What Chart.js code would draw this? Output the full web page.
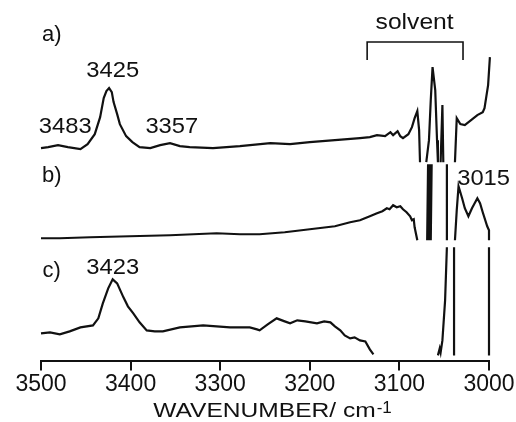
<!DOCTYPE html>
<html>
<head>
<meta charset="utf-8">
<script src="https://cdn.jsdelivr.net/npm/chart.js@4"></script>
<style>
  html, body { margin: 0; padding: 0; background: #fff; }
</style>
</head>
<body>
<canvas id="ir" width="516" height="422"></canvas>
<script>
// Espectros IR (region O-H / C-H), tres trazas desplazadas verticalmente
// x = numero de onda (cm-1), y = absorbancia en unidades arbitrarias con offset
// null = tramo fuera de escala (la traza se corta)

const waveA = [3500, 3492, 3481, 3470, 3456, 3448, 3440, 3434, 3430, 3427, 3424, 3421, 3419, 3415, 3412, 3405, 3398, 3390,
  3378, 3367, 3356, 3345, 3334, 3308, 3278, 3244, 3222, 3200, 3172, 3144, 3133, 3125, 3116, 3110, 3107, 3102, 3099, 3096, 3090, 3086,
  3083, 3080, 3078, 3077, 3074, 3070, 3067, 3065, 3063, 3060, 3058, 3057, 3055, 3054, 3052, 3051, 3045, 3038, 3036, 3032,
  3027, 3020, 3013, 3007, 3005, 3001, 2999];
const absA = [213, 214, 216, 214, 212, 217, 227, 244, 263, 270, 273, 269, 259, 247, 237, 225, 219, 214,
  213, 216, 218, 215, 214, 213, 215, 218, 217, 219, 221, 223, 224, 226, 225, 229, 226, 230, 225, 223, 227, 234,
  243, 250, 231, 199, null, 199, 221, 261, 294, 271, 221, 199, null, 199, 256, 199, null, 199, 243, 237,
  236, 241, 246, 249, 253, 276, 304];

const waveB = [3500, 3479, 3445, 3401, 3356, 3304, 3278, 3256, 3228, 3200, 3172, 3155, 3144, 3133, 3125, 3119, 3114, 3111,
  3107, 3103, 3099, 3096, 3092, 3088, 3086, 3084, 3083, 3080, 3075, 3069, 3068, 3067, 3066, 3065, 3064, 3056,
  3047, 3047, 3043, 3038, 3036, 3034, 3030, 3027, 3023, 3019, 3013, 3010, 3007, 3002, 3000, 3000];
const absB = [123, 123, 124, 125, 126, 128, 127, 127, 129, 132, 135, 139, 141, 145, 148, 150, 153, 152,
  156, 154, 155, 152, 149, 145, 141, 142, 134, 121, null, 121, 197, 121, 197, 121, 197, null,
  197, 121, null, 121, 151, 175, 163, 153, 145, 153, 163, 158, 149, 135, 131, 121];

const waveC = [3500, 3490, 3479, 3468, 3456, 3442, 3436, 3431, 3425, 3420, 3415, 3408, 3403, 3397, 3390, 3382, 3373, 3364,
  3345, 3319, 3289, 3267, 3259, 3256, 3247, 3237, 3228, 3222, 3214, 3205, 3192, 3184, 3177, 3172, 3166, 3161,
  3155, 3150, 3144, 3138, 3133, 3129, 3100, 3057, 3055, 3054, 3052, 3049, 3047, 3043, 3039, 3039, 3010, 3000, 3000];
const absC = [28, 29, 27, 30, 34, 36, 43, 58, 73, 82, 78, 64, 55, 48, 39, 31, 30, 30,
  34, 36, 34, 34, 32, 31, 37, 43, 40, 38, 41, 40, 38, 40, 39, 35, 31, 26,
  23, 24, 21, 20, 12, 7, null, 6, 13, 9, 21, 61, 114, null, 114, 6, null, 6, 114];

// corchete "solvent"
const bracketWave = [3136, 3136, 3029, 3029];
const bracketAbs = [301, 319, 319, 301];

const xTicks = [3500, 3400, 3300, 3200, 3100, 3000];
const panelLabels = ['a)', 'b)', 'c)'];
const peakLabels = ['3483', '3425', '3357', '3015', '3423'];
const solventLabel = 'solvent';
const axisTitle = 'WAVENUMBER/ cm';
const axisTitleSup = '-1';

const FONT = '"Liberation Sans", Arial, Helvetica, sans-serif';
const INK = '#111';

function toPoints(wave, abs) {
    return wave.map((w, i) => ({ x: w, y: abs[i] }));
}

function traza(wave, abs) {
    return {
        data: toPoints(wave, abs),
        borderColor: INK,
        borderWidth: 2.2,
        pointRadius: 0,
        tension: 0,
        spanGaps: false,
        fill: false,
        clip: { left: 4, right: 4, top: 0, bottom: 0 }
    };
}

// textos sobre la grafica (etiquetas, picos, titulo del eje)
const textosPlugin = {
    id: 'textos',
    afterDraw(chart) {
        const { ctx, scales: { x, y } } = chart;
        const put = (t, v, h, size, sx) => {
            ctx.save();
            ctx.font = size + 'px ' + FONT;
            ctx.translate(x.getPixelForValue(v), y.getPixelForValue(h));
            ctx.scale(sx || 1.08, 1);
            ctx.fillText(t, 0, 0);
            ctx.restore();
        };
        ctx.save();
        ctx.fillStyle = INK;
        ctx.textAlign = 'center';
        ctx.textBaseline = 'alphabetic';

        put(panelLabels[0], 3488, 320, 22, 1);
        put(panelLabels[1], 3488, 179, 22, 1);
        put(panelLabels[2], 3488, 84, 22, 1);

        put(peakLabels[0], 3473, 228, 22);
        put(peakLabels[1], 3420, 284, 22);
        put(peakLabels[2], 3354, 228, 22);
        put(peakLabels[3], 3006, 176, 22);
        put(peakLabels[4], 3420, 87, 22);

        put(solventLabel, 3083, 332, 22, 1.12);

        // titulo del eje x con superindice
        ctx.textAlign = 'left';
        const sx = 1.17;
        ctx.font = '21px ' + FONT;
        const w1 = ctx.measureText(axisTitle).width * sx;
        ctx.font = '17px ' + FONT;
        const w2 = ctx.measureText(axisTitleSup).width;
        const x0 = 272 - (w1 + w2) / 2;
        ctx.save();
        ctx.font = '21px ' + FONT;
        ctx.translate(x0, 417);
        ctx.scale(sx, 1);
        ctx.fillText(axisTitle, 0, 0);
        ctx.restore();
        ctx.font = '17px ' + FONT;
        ctx.fillText(axisTitleSup, x0 + w1 + 1, 413);
        ctx.restore();
    }
};

new Chart(document.getElementById('ir'), {
    type: 'line',
    data: {
        datasets: [
            traza(waveA, absA),
            traza(waveB, absB),
            traza(waveC, absC),
            Object.assign(traza(bracketWave, bracketAbs), { borderWidth: 1.6 })
        ]
    },
    options: {
        responsive: false,
        animation: false,
        events: [],
        layout: { padding: { top: 0, left: 41, right: 27, bottom: 24 } },
        plugins: {
            legend: { display: false },
            tooltip: { enabled: false }
        },
        scales: {
            x: {
                type: 'linear',
                reverse: true,
                min: 3000,
                max: 3500,
                afterBuildTicks: (scale) => { scale.ticks = xTicks.map(v => ({ value: v })); },
                grid: { drawOnChartArea: false, drawTicks: true, tickLength: 9, color: INK, lineWidth: 2 },
                border: { display: true, color: INK, width: 2 },
                ticks: {
                    color: INK,
                    padding: 0,
                    maxRotation: 0,
                    autoSkip: false,
                    font: { family: FONT, size: 23 },
                    callback: (v) => String(v)
                }
            },
            y: {
                display: false,
                min: 0,
                max: 361
            }
        }
    },
    plugins: [textosPlugin]
});
</script>
</body>
</html>
